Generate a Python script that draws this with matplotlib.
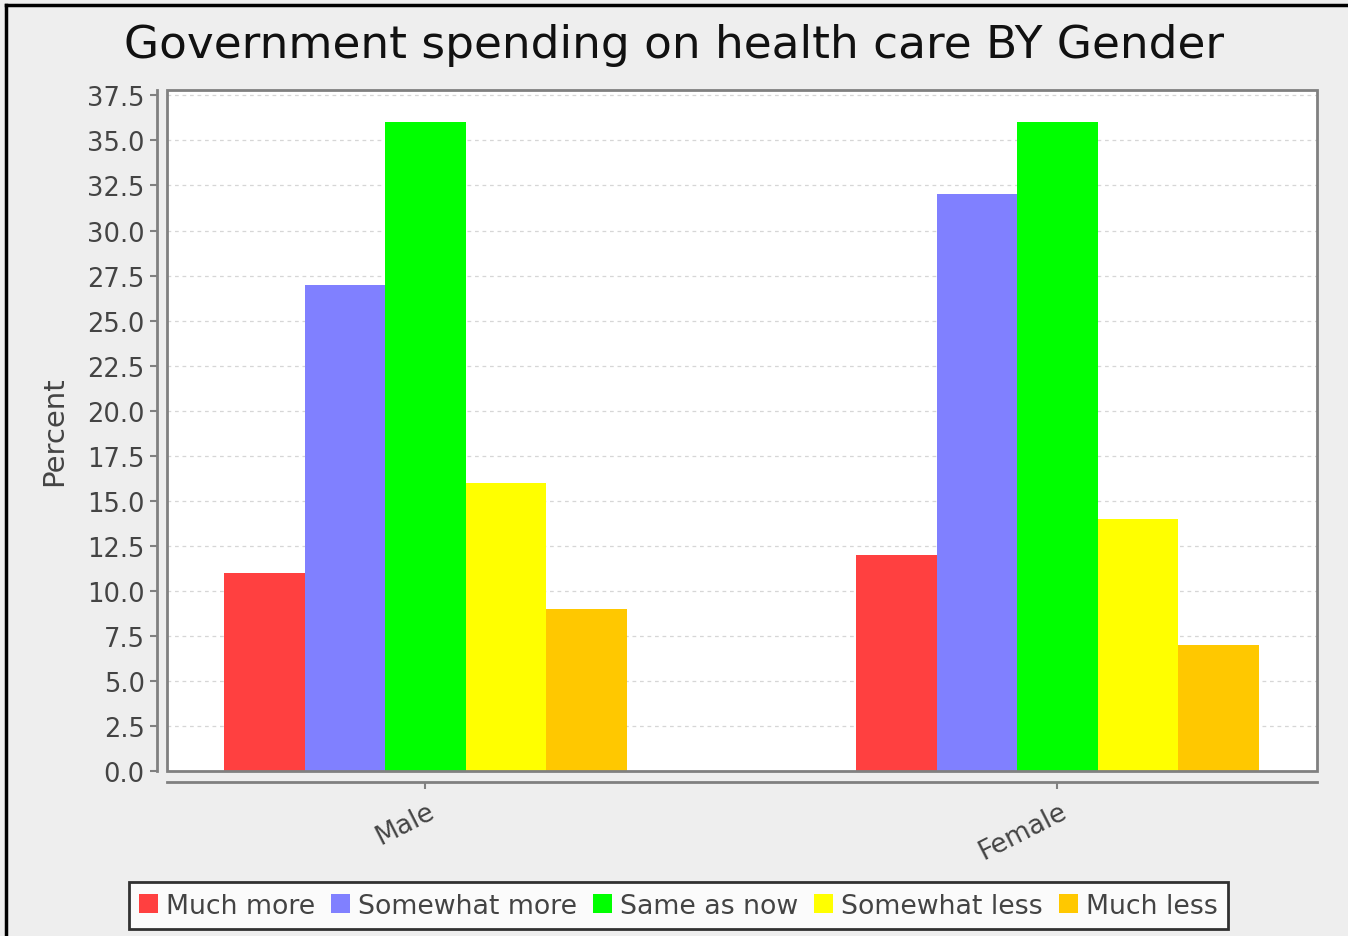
import numpy as np
import matplotlib.pyplot as plt
from matplotlib.patches import Rectangle
from matplotlib.lines import Line2D
from matplotlib.transforms import ScaledTranslation

genders = ['Male', 'Female']
responses = ['Much more', 'Somewhat more', 'Same as now', 'Somewhat less', 'Much less']
percent = {
    'Much more':     [11, 12],
    'Somewhat more': [27, 32],
    'Same as now':   [36, 36],
    'Somewhat less': [16, 14],
    'Much less':     [9, 7],
}
yticks = np.arange(0, 37.6, 2.5)

COLORS = ['#ff4040', '#8080ff', '#00ff00', '#ffff00', '#ffc800']
BG = '#eeeeee'
TXT = '#444444'

fig = plt.figure(figsize=(13.48, 9.37), dpi=100)
fig.patch.set_facecolor(BG)
ax = fig.add_axes([0.1239, 0.1761, 0.8531, 0.7268])
ax.set_facecolor('white')

x = np.arange(len(genders))
bw = 0.1274
for i, r in enumerate(responses):
    ax.bar(x + (i - 2) * bw, percent[r], bw, color=COLORS[i], label=r,
           linewidth=0, zorder=3)

ax.set_xlim(-0.409, 1.411)
ax.set_ylim(0, 37.8)
ax.set_yticks(yticks)
ax.set_yticklabels(['%.1f' % v for v in yticks])
ax.yaxis.grid(True, color='#d6d6d6', linestyle=(0, (3, 3)), linewidth=0.9, zorder=0)

for s in ['top', 'right']:
    ax.spines[s].set_visible(False)
ax.spines['left'].set_position(('outward', 7))
ax.spines['bottom'].set_position(('outward', 8))
for s in ['left', 'bottom']:
    ax.spines[s].set_color('#808080')
    ax.spines[s].set_linewidth(2)

# plot outline
ax.add_patch(Rectangle((0, 0), 1, 1, transform=ax.transAxes, fill=False,
                       edgecolor='#808080', linewidth=2, clip_on=False, zorder=5))

ax.tick_params(axis='y', colors='#808080', labelcolor=TXT, labelsize=18.5,
               length=5, width=1.5, pad=4)
ax.tick_params(axis='x', colors='#808080', labelcolor=TXT, labelsize=19,
               length=5, width=1.5, pad=6)
ax.set_xticks(x)
ax.set_xticklabels(genders, rotation=27, ha='right', va='center',
                   rotation_mode='anchor')
for lbl in ax.get_xticklabels():
    lbl.set_transform(lbl.get_transform() + ScaledTranslation(0.08, -0.12, fig.dpi_scale_trans))

ax.set_ylabel('Percent', fontsize=21, color=TXT, labelpad=14)

fig.text(0.5, 0.951, 'Government spending on health care BY Gender',
         ha='center', va='center', fontsize=32.7, color='#111111')

leg = fig.legend(loc='center', bbox_to_anchor=(0.5033, 0.0325), ncol=5,
                 fontsize=19.3, frameon=True, fancybox=False,
                 handlelength=0.7, handleheight=0.7, handletextpad=0.3,
                 columnspacing=0.6, borderpad=0.4, labelcolor=TXT)
leg.get_frame().set_edgecolor('black')
leg.get_frame().set_linewidth(2)

# outer frame edges at top and left
fig.add_artist(Line2D([6 / 1348, 1.0], [1 - 6 / 937, 1 - 6 / 937],
                      transform=fig.transFigure, color='black', linewidth=2.5))
fig.add_artist(Line2D([6 / 1348, 6 / 1348], [0.0, 1 - 6 / 937],
                      transform=fig.transFigure, color='black', linewidth=2.5))

fig.savefig('out.png', dpi=100, facecolor=BG)
